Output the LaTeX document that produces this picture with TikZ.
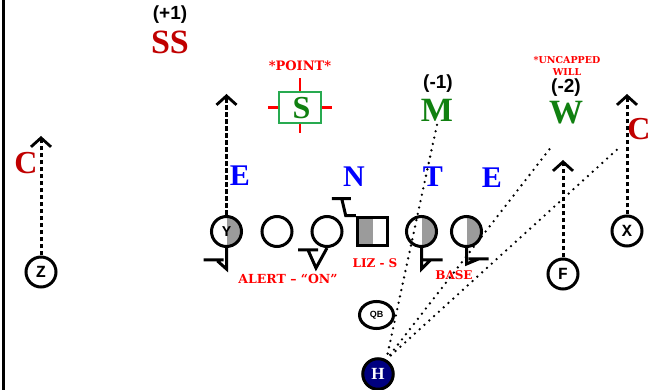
\documentclass[tikz,border=0pt]{standalone}
\usepackage{fontspec}
\setmainfont{Liberation Serif}
\newfontfamily\calltype{DejaVu Serif}
\newfontfamily\counttype{Liberation Sans}
\newfontfamily\tagtype{Liberation Mono}
\usetikzlibrary{arrows.meta,shapes.geometric}
\definecolor{secred}{RGB}{192,0,0}
\definecolor{callred}{RGB}{255,0,0}
\definecolor{lbgreen}{RGB}{16,128,16}
\definecolor{boxgreen}{RGB}{40,170,80}
\definecolor{dlblue}{RGB}{0,0,255}
\definecolor{techgray}{RGB}{155,155,155}
\definecolor{backnavy}{RGB}{0,0,128}
\begin{document}
\begin{tikzpicture}[x=1pt, y=-1pt,
  player/.style={circle, draw, line width=3pt, minimum size=30pt, inner sep=0pt, fill=white,
    font=\tagtype\fontsize{17}{17}\selectfont\bfseries},
  halfright/.style={player, path picture={\fill[techgray] (path picture bounding box.north) rectangle (path picture bounding box.south east);}},
  centerbox/.style={rectangle, draw, line width=3pt, minimum width=30.5pt, minimum height=28.5pt, inner sep=0pt, fill=white,
    path picture={\fill[techgray] (path picture bounding box.north west) rectangle (path picture bounding box.south);}},
  secletter/.style={text=secred, font=\fontsize{34}{34}\selectfont\bfseries},
  lbletter/.style={text=lbgreen, font=\fontsize{34}{34}\selectfont\bfseries},
  dlletter/.style={text=dlblue, font=\fontsize{30}{30}\selectfont\bfseries},
  count/.style={font=\counttype\fontsize{19}{19}\selectfont\bfseries, inner sep=1pt},
  callout/.style={text=callred, font=\calltype\fontsize{12}{12}\selectfont\bfseries},
  route/.style={line width=3pt, dash pattern=on 4.5pt off 2.5pt, -{Straight Barb[length=9pt, width=20pt, line width=2.8pt]}},
  read/.style={line width=2.6pt, line cap=round, dash pattern=on 0pt off 6.5pt},
  block/.style={line width=3pt}
]
\useasboundingbox (0,0) rectangle (657,390);
\draw[line width=3pt] (3,0) -- (3,390);

\node[count] (ssn) at (170,15) {(+1)};
\node[secletter] (ss) at (170,42) {SS};
\node[callout, font=\calltype\fontsize{13}{13}\selectfont\bfseries] (point) at (300,66) {*POINT*};
\node[draw=boxgreen, line width=1.5pt, minimum width=42pt, minimum height=31pt, inner sep=0pt] (sbox) at (300,107.5) {};
\node[lbletter, font=\fontsize{32}{32}\selectfont\bfseries] (s) at (301.5,108.5) {S};
\node[count] (mn) at (438,84) {(-1)};
\node[lbletter] (m) at (437,110) {M};
\node[callout, font=\calltype\fontsize{9.5}{12}\selectfont\bfseries, align=center, inner sep=1pt] (uncap) at (567,66) {*UNCAPPED\\WILL};
\node[count] (wn) at (566,87.5) {(-2)};
\node[lbletter] (w) at (566,113) {W};
\node[secletter, font=\fontsize{32}{32}\selectfont\bfseries] (cr) at (639,129) {C};
\node[secletter, font=\fontsize{32}{32}\selectfont\bfseries] (cl) at (26,163) {C};

\node[dlletter] (el) at (240,176) {E};
\node[dlletter] (n) at (354,177) {N};
\node[dlletter] (t) at (433,177) {T};
\node[dlletter] (er) at (492,178) {E};

\node[halfright, font=\tagtype\fontsize{15}{15}\selectfont\bfseries] (y) at (226.5,231.5) {Y};
\node[player] (lg) at (277,231.5) {};
\node[player] (lt) at (327,231.5) {};
\node[centerbox] (ctr) at (372.5,231.5) {};
\node[halfright] (rg) at (421.5,231.5) {};
\node[halfright] (rt) at (466.5,231.5) {};
\node[player] (x) at (627,231) {X};
\node[player] (f) at (563,274) {F};
\node[player] (z) at (41,272) {Z};
\node[ellipse, draw, line width=3pt, minimum width=34pt, minimum height=27pt, inner sep=0pt, fill=white,
  font=\counttype\fontsize{9}{9}\selectfont\bfseries] (qb) at (376.5,315) {QB};
\node[circle, draw, fill=backnavy, line width=3pt, minimum size=30.5pt, inner sep=0pt, text=white,
  font=\fontsize{17}{17}\selectfont\bfseries] (h) at (378,374) {H};

\node[callout, font=\calltype\fontsize{12.5}{12.5}\selectfont\bfseries] (alert) at (288,279) {ALERT – “ON”};
\node[callout] (liz) at (375,263) {LIZ - S};
\node[callout] (base) at (454,275) {BASE};

\draw[callred, line width=2.8pt] (sbox.north) -- ++(0,-13);
\draw[callred, line width=2.8pt] (sbox.south) -- ++(0,9);
\draw[callred, line width=2.8pt] (sbox.west) -- ++(-10,0);
\draw[callred, line width=2.8pt] (sbox.east) -- ++(10,0);

\coordinate (ytop) at (226.5,94);
\coordinate (xtop) at (627,94);
\coordinate (ftop) at (563,160);
\coordinate (ztop) at (41,136);
\draw[route] (y) -- (ytop);
\draw[route] (x) -- (xtop);
\draw[route] (f) -- (ftop);
\draw[route] (z) -- (ztop);

\draw[block] (y.south) -- ++(0,21) -- ++(-9,-8) ++(-14,-1) -- ++(20,0);
\draw[block] (lt.south) -- ++(-11,20) -- ++(-8,-18) ++(-10,0) -- ++(20,0);
\draw[block] (ctr.north west) -- ++(-10,0) -- ++(-4,-17) ++(-10,0) -- ++(19,0);
\draw[block] (rg.south) -- ++(0,21) -- ++(9,-9) ++(-8,0) -- ++(20,0);
\draw[block] (rt.south) -- ++(0,16) -- ++(12,-5) ++(-10,0) -- ++(20,0);

\draw[read, shorten <=6pt] (h.60) -- (m.south);
\draw[read, shorten <=6pt, shorten >=22pt] (h.60) -- (w.south);
\draw[read, shorten <=6pt, shorten >=8pt] (h.60) -- (cr.south west);
\end{tikzpicture}
\end{document}
